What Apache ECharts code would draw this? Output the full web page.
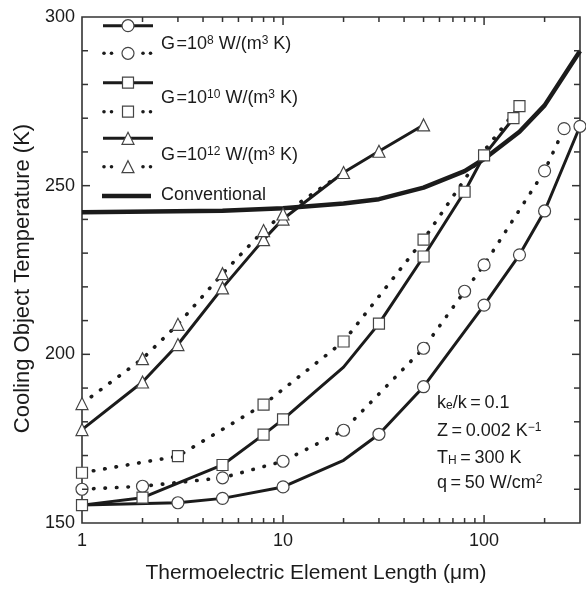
<!DOCTYPE html>
<html>
<head>
<meta charset="utf-8">
<script src="https://cdn.jsdelivr.net/npm/echarts@6/dist/echarts.min.js"></script>
<style>
  html, body { margin: 0; padding: 0; background: #ffffff; overflow: hidden; }
  #chart { width: 586px; height: 589px; }
</style>
</head>
<body>
<div id="chart"></div>
<script>
// Element length L (µm) and cooled-object temperature T (K) for each curve.
// The *Mark arrays say which vertices carry a marker (1) and which are plain (0).
const g8SolidL = [1, 3, 5, 10, 20, 30, 50, 100, 150, 200, 300];
const g8SolidT = [155.3, 156.0, 157.3, 160.7, 168.6, 176.3, 190.4, 214.6, 229.5, 242.5, 267.6];
const g8SolidMark = [0, 1, 1, 1, 0, 1, 1, 1, 1, 1, 1];

const g8DotL = [1, 2, 5, 10, 20, 50, 80, 100, 200, 250];
const g8DotT = [160.0, 160.9, 163.4, 168.3, 177.5, 201.8, 218.7, 226.5, 254.4, 266.9];
const g8DotMark = [1, 1, 1, 1, 1, 1, 1, 1, 1, 1];

const g10SolidL = [1, 2, 5, 8, 10, 20, 30, 50, 80, 100, 140];
const g10SolidT = [155.3, 157.5, 167.2, 176.2, 180.7, 196.2, 209.1, 229.0, 248.2, 259.0, 270.0];
const g10SolidMark = [1, 1, 1, 1, 1, 0, 1, 1, 1, 1, 1];

const g10DotL = [1, 3, 8, 20, 50, 100, 150];
const g10DotT = [164.9, 169.8, 185.1, 203.8, 234.0, 260.3, 273.6];
const g10DotMark = [1, 1, 1, 1, 1, 0, 1];

const g12SolidL = [1, 2, 3, 5, 8, 10, 20, 30, 50];
const g12SolidT = [177.7, 191.8, 202.9, 219.7, 234.0, 240.1, 253.9, 260.2, 268.0];
const g12SolidMark = [1, 1, 1, 1, 1, 1, 1, 1, 1];

const g12DotL = [1, 2, 3, 5, 8, 10, 20];
const g12DotT = [185.4, 198.7, 208.9, 223.9, 236.7, 241.6, 253.9];
const g12DotMark = [1, 1, 1, 1, 1, 1, 0];

const convL = [1, 5, 10, 20, 30, 50, 80, 100, 150, 200, 300];
const convT = [242.1, 242.6, 243.3, 244.7, 246.0, 249.4, 254.3, 257.9, 266.0, 273.8, 289.9];

// Axis ranges and tick values
const lengthMin = 1, lengthMax = 300;
const tempMin = 150, tempMax = 300;
const lengthMajorTicks = [10, 100];
const lengthMinorTicks = [2, 3, 4, 5, 6, 7, 8, 9, 20, 30, 40, 50, 60, 70, 80, 90, 200];
const tempMajorTicks = [200, 250];
const tempMinorTicks = [160, 170, 180, 190, 210, 220, 230, 240, 260, 270, 280, 290];

const FONT = '"Liberation Sans", Arial, Helvetica, sans-serif';
const INK = '#1b1b1b';
const AXIS = '#333333';

const chart = echarts.init(document.getElementById('chart'), null, { renderer: 'canvas' });

function points(L, T, mark, symbol) {
  return L.map((l, i) => ({ value: [l, T[i]], symbol: mark && mark[i] ? symbol : 'none' }));
}

const markerStyle = { color: '#ffffff', borderColor: '#444444', borderWidth: 1.2, opacity: 1 };
const solidLine = { color: INK, width: 3, type: 'solid' };
const dotLine = { color: INK, width: 3.6, type: [0.5, 11], cap: 'round' };

function curve(name, L, T, mark, symbol, size, lineStyle) {
  return {
    name, type: 'line', xAxisIndex: 0, yAxisIndex: 0,
    data: points(L, T, mark, symbol),
    symbolSize: size, showSymbol: true, showAllSymbol: true,
    itemStyle: markerStyle, lineStyle,
    clip: false, silent: true, animation: false,
    emphasis: { disabled: true }
  };
}

// Legend, drawn as plain graphics
const LX0 = 103, LX1 = 153, LXC = 128;
function legendMarker(symbol, y) {
  const st = { fill: '#ffffff', stroke: '#444444', lineWidth: 1.2 };
  if (symbol === 'circle') return { type: 'circle', shape: { cx: LXC, cy: y, r: 6 }, style: st, z: 10 };
  if (symbol === 'rect') return { type: 'rect', shape: { x: LXC - 5.5, y: y - 5.5, width: 11, height: 11 }, style: st, z: 10 };
  return { type: 'polygon', shape: { points: [[LXC, y - 6], [LXC + 6, y + 6], [LXC - 6, y + 6]] }, style: st, z: 10 };
}
function legendSolid(y, symbol) {
  const els = [{ type: 'line', shape: { x1: LX0, y1: y, x2: LX1, y2: y }, style: { stroke: INK, lineWidth: 3 }, z: 9 }];
  if (symbol) els.push(legendMarker(symbol, y));
  return els;
}
function legendDotted(y, symbol) {
  const els = [104, 111.5, 143, 150.5].map(x => ({
    type: 'circle', shape: { cx: x, cy: y, r: 1.8 }, style: { fill: INK }, z: 9
  }));
  els.push(legendMarker(symbol, y));
  return els;
}
const supRich = {
  n: { fontFamily: FONT, fontSize: 18, fill: INK },
  sup: { fontFamily: FONT, fontSize: 12, fill: INK, verticalAlign: 'top', padding: [0, 0, 6, 0] },
  sub: { fontFamily: FONT, fontSize: 12, fill: INK, verticalAlign: 'bottom', padding: [6, 0, 0, 0] }
};
function label(x, y, text) {
  return {
    type: 'text', x, y, z: 10,
    style: { text, fontFamily: FONT, fontSize: 18, fill: INK, verticalAlign: 'middle', align: 'left', rich: supRich }
  };
}

const graphics = [].concat(
  legendSolid(25.7, 'circle'),
  legendDotted(53.3, 'circle'),
  legendSolid(82.7, 'rect'),
  legendDotted(111.7, 'rect'),
  legendSolid(138.3, 'triangle'),
  legendDotted(166.7, 'triangle'),
  [{ type: 'line', shape: { x1: 102, y1: 196, x2: 151, y2: 196 }, style: { stroke: INK, lineWidth: 4.5 }, z: 9 }],
  [
    label(161, 44, '{n|G\u200a=10}{sup|8}{n| W/(m}{sup|3}{n| K)}'),
    label(161, 98, '{n|G\u200a=10}{sup|10}{n| W/(m}{sup|3}{n| K)}'),
    label(161, 155, '{n|G\u200a=10}{sup|12}{n| W/(m}{sup|3}{n| K)}'),
    label(161, 195, '{n|Conventional}'),
    label(437, 403, '{n|k}{sub|e}{n|/k\u2009=\u20090.1}'),
    label(437, 431, '{n|Z\u2009=\u20090.002 K}{sup|\u22121}'),
    label(437, 458, '{n|T}{sub|H}{n|\u2009=\u2009300 K}'),
    label(437, 483, '{n|q\u2009=\u200950 W/cm}{sup|2}')
  ]
);

// Inward ticks on all four sides of the frame, positioned through the axes' scales
function tickSeries(values, dim, len) {
  return {
    type: 'custom', xAxisIndex: 0, yAxisIndex: 0, silent: true, clip: false, z: 5,
    data: values.map(v => (dim === 'x' ? [v, tempMin] : [lengthMin, v])),
    encode: { x: 0, y: 1 },
    renderItem(params, api) {
      const x0 = api.coord([lengthMin, tempMin])[0];
      const x1 = api.coord([lengthMax, tempMin])[0];
      const yb = api.coord([lengthMin, tempMin])[1];
      const yt = api.coord([lengthMin, tempMax])[1];
      const st = { stroke: AXIS, lineWidth: 1.5 };
      if (dim === 'x') {
        const x = api.coord([api.value(0), tempMin])[0];
        return {
          type: 'group', children: [
            { type: 'line', shape: { x1: x, y1: yb, x2: x, y2: yb - len }, style: st },
            { type: 'line', shape: { x1: x, y1: yt, x2: x, y2: yt + len }, style: st }
          ]
        };
      }
      const y = api.coord([lengthMin, api.value(1)])[1];
      return {
        type: 'group', children: [
          { type: 'line', shape: { x1: x0, y1: y, x2: x0 + len, y2: y }, style: st },
          { type: 'line', shape: { x1: x1, y1: y, x2: x1 - len, y2: y }, style: st }
        ]
      };
    }
  };
}

const option = {
  backgroundColor: '#ffffff',
  animation: false,
  grid: {
    left: 82, right: 6, top: 17, bottom: 65, containLabel: false,
    show: true, borderColor: AXIS, borderWidth: 1.6, backgroundColor: 'transparent'
  },
  xAxis: {
    type: 'log', logBase: 10, min: lengthMin, max: lengthMax, position: 'bottom',
    axisLine: { show: false },
    axisTick: { show: false },
    axisLabel: {
      show: true, margin: 9, fontFamily: FONT, fontSize: 18, color: INK,
      showMaxLabel: false,
      formatter: v => String(Math.round(v))
    },
    splitLine: { show: false },
    name: 'Thermoelectric Element Length (\u03bcm)',
    nameLocation: 'middle', nameGap: 40,
    nameTextStyle: { fontFamily: FONT, fontSize: 21, color: INK, padding: [0, 30, 0, 0] }
  },
  yAxis: {
    type: 'value', min: tempMin, max: tempMax, interval: 50, position: 'left',
    axisLine: { show: false },
    axisTick: { show: false },
    axisLabel: { show: true, margin: 7, fontFamily: FONT, fontSize: 18, color: INK },
    splitLine: { show: false },
    name: 'Cooling Object Temperature (K)',
    nameLocation: 'middle', nameGap: 47,
    nameTextStyle: { fontFamily: FONT, fontSize: 22, color: INK, padding: [0, 17, 0, 0] }
  },
  series: [
    tickSeries(lengthMajorTicks, 'x', 8),
    tickSeries(lengthMinorTicks, 'x', 5),
    tickSeries(tempMajorTicks, 'y', 8),
    tickSeries(tempMinorTicks, 'y', 6),
    {
      name: 'Conventional', type: 'line', xAxisIndex: 0, yAxisIndex: 0,
      data: convL.map((l, i) => [l, convT[i]]),
      showSymbol: false, lineStyle: { color: INK, width: 4.5 },
      clip: false, silent: true, animation: false, emphasis: { disabled: true }
    },
    curve('G=1e8 solid', g8SolidL, g8SolidT, g8SolidMark, 'circle', 12, solidLine),
    curve('G=1e8 dotted', g8DotL, g8DotT, g8DotMark, 'circle', 12, dotLine),
    curve('G=1e10 solid', g10SolidL, g10SolidT, g10SolidMark, 'rect', 11, solidLine),
    curve('G=1e10 dotted', g10DotL, g10DotT, g10DotMark, 'rect', 11, dotLine),
    curve('G=1e12 solid', g12SolidL, g12SolidT, g12SolidMark, 'triangle', 12, solidLine),
    curve('G=1e12 dotted', g12DotL, g12DotT, g12DotMark, 'triangle', 12, dotLine)
  ],
  graphic: graphics
};

chart.setOption(option);
</script>
</body>
</html>
